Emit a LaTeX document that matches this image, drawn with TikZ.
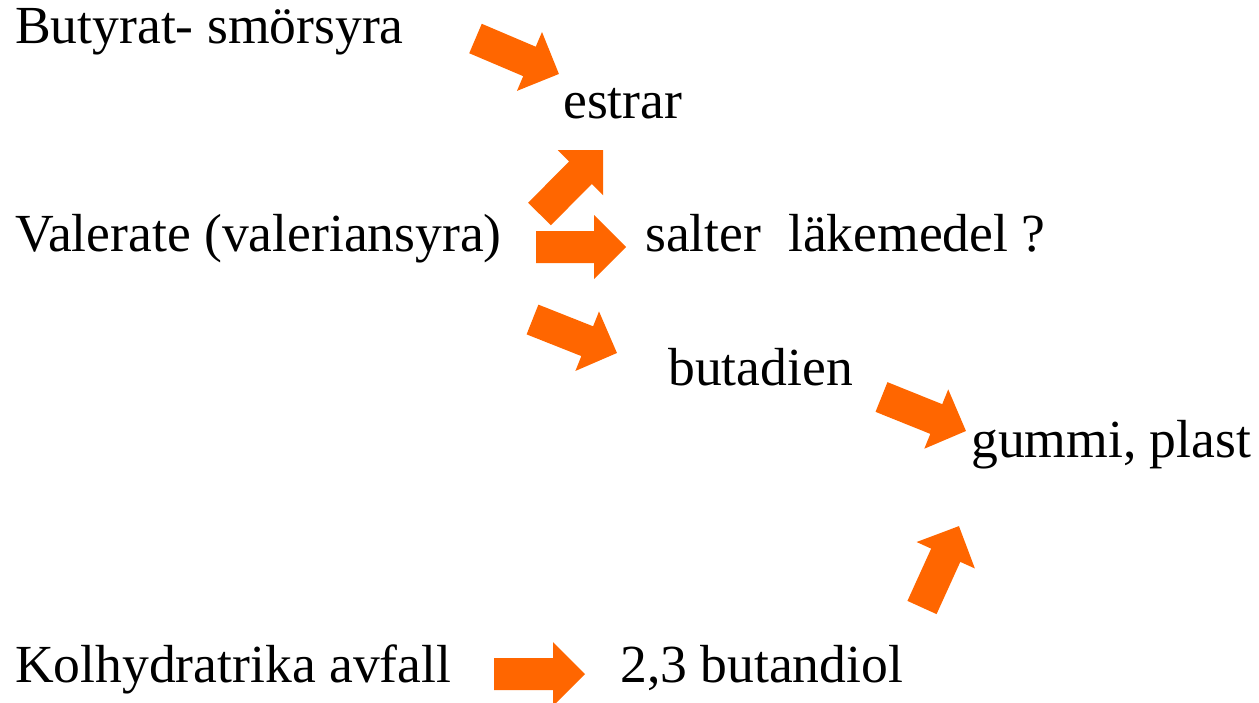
\documentclass[tikz,border=0pt]{standalone}
\usepackage{fontspec}
\setmainfont{Liberation Serif}
\usetikzlibrary{calc}
\definecolor{arrowc}{HTML}{FF6600}
\tikzset{
  lbl/.style={anchor=base west, inner sep=0pt, font=\fontsize{53.6}{60}\selectfont},
}
\newcommand\blockarrow[2]{%
  \fill[arrowc] let \p1=($(#2)-(#1)$), \n1={atan2(\y1,\x1)}, \n2={veclen(\x1,\y1)} in
    [shift={(#1)}, rotate=\n1]
    (0,-16) -- (\n2-32,-16) -- (\n2-32,-32) -- (\n2,0) -- (\n2-32,32) -- (\n2-32,16) -- (0,16) -- cycle;}
\begin{document}
\begin{tikzpicture}[x=1pt,y=-1pt]
\useasboundingbox (0,0) rectangle (1259,702);
\node[lbl] (but) at (15,43) {Butyrat- smörsyra};
\node[lbl] (est) at (563,118) {estrar};
\node[lbl] (val) at (15,251) {Valerate (valeriansyra)};
\node[lbl] (sal) at (645,251) {salter\ \ läkemedel ?};
\node[lbl] (bdn) at (668,385) {butadien};
\node[lbl] (gum) at (971,457) {gummi, plast};
\node[lbl] (kol) at (15,682) {Kolhydratrika avfall};
\node[lbl] (bdl) at (620,682) {2,3 butandiol};
% arrow tails and tips
\coordinate (a1s) at (475.5,38.5); \coordinate (a1e) at (559,74);
\coordinate (a2s) at (539.5,214);  \coordinate (a2e) at (603,150);
\coordinate (a3s) at (536,247);    \coordinate (a3e) at (626,247);
\coordinate (a4s) at (532.5,319.5);\coordinate (a4e) at (617,353);
\coordinate (a5s) at (881.5,397);  \coordinate (a5e) at (966,431);
\coordinate (a6s) at (922,607.5);  \coordinate (a6e) at (959,526);
\coordinate (a7s) at (494,674);    \coordinate (a7e) at (585,674);
\blockarrow{a1s}{a1e}
\blockarrow{a2s}{a2e}
\blockarrow{a3s}{a3e}
\blockarrow{a4s}{a4e}
\blockarrow{a5s}{a5e}
\blockarrow{a6s}{a6e}
\blockarrow{a7s}{a7e}
\end{tikzpicture}
\end{document}
